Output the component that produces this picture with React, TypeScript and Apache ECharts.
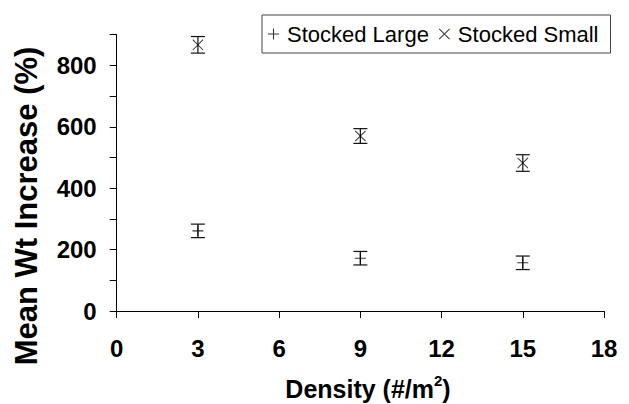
import React, { useEffect, useRef } from "react";
import * as echarts from "echarts";

// Stocking density (#/m²)
const densities = [3, 9, 15];
// Mean weight increase (%) and its error (±)
const largeMeans = [261, 172, 157];
const largeErr = [22, 22, 22];
const smallMeans = [867, 570, 482];
const smallErr = [27, 24, 27];

const yTicks = [0, 200, 400, 600, 800];
const xTicks = [0, 3, 6, 9, 12, 15, 18];

const FONT = "'Liberation Sans', Arial, Helvetica, sans-serif";

// thin plus and cross drawn as filled outlines
const PLUS = "path://M0,4.5H10V5.5H0Z M4.5,0H5.5V10H4.5Z";
const CROSS =
  "path://M0,0.6L0.6,0L10,9.4L9.4,10Z M9.4,0L10,0.6L0.6,10L0,9.4Z";

function errorBarSeries(name: string, means: number[], errs: number[]) {
  return {
    type: "custom",
    name,
    data: densities.map((d, i) => [d, means[i], errs[i]]),
    encode: { x: 0, y: 1 },
    silent: true,
    z: 3,
    renderItem: (_params: any, api: any) => {
      const x = api.value(0);
      const y = api.value(1);
      const e = api.value(2);
      const top = api.coord([x, y + e]);
      const bot = api.coord([x, y - e]);
      const hw = 7;
      const style = { stroke: "#111", lineWidth: 1.2 };
      return {
        type: "group",
        children: [
          { type: "line", shape: { x1: top[0], y1: top[1], x2: bot[0], y2: bot[1] }, style },
          { type: "line", shape: { x1: top[0] - hw, y1: top[1], x2: top[0] + hw, y2: top[1] }, style },
          { type: "line", shape: { x1: bot[0] - hw, y1: bot[1], x2: bot[0] + hw, y2: bot[1] }, style },
        ],
      };
    },
  };
}

export default function App() {
  const ref = useRef<HTMLDivElement>(null);

  useEffect(() => {
    if (!ref.current) return;
    const chart = echarts.init(ref.current, null, { renderer: "svg" });
    chart.setOption({
      animation: false,
      backgroundColor: "#fff",
      grid: {
        left: 116.7,
        right: 25,
        top: 34.7,
        bottom: 93,
        containLabel: false,
        outerBoundsMode: "none",
      },
      legend: {
        data: [
          { name: "Stocked Large", icon: PLUS },
          { name: "Stocked Small", icon: CROSS },
        ],
        left: 262,
        top: 15,
        orient: "horizontal",
        itemWidth: 11,
        itemHeight: 11,
        itemGap: 10,
        padding: [8, 12, 8, 6],
        borderColor: "#444",
        borderWidth: 1,
        borderRadius: 0,
        selectedMode: false,
        textStyle: { fontFamily: FONT, fontSize: 22, color: "#000", padding: [0, 0, 0, 3] },
      },
      xAxis: {
        type: "value",
        min: 0,
        max: 18,
        interval: 3,
        axisLine: { show: true, onZero: false, lineStyle: { color: "#000", width: 1 } },
        axisTick: { show: true, length: 7, lineStyle: { color: "#000" } },
        splitLine: { show: false },
        axisLabel: {
          margin: 25,
          fontFamily: FONT,
          fontWeight: "bold",
          fontSize: 24,
          color: "#000",
          formatter: (v: number) => (xTicks.includes(v) ? String(v) : ""),
        },
      },
      yAxis: {
        type: "value",
        min: 0,
        max: 900,
        interval: 100,
        axisLine: { show: true, onZero: false, lineStyle: { color: "#000", width: 1 } },
        axisTick: { show: true, length: 7, lineStyle: { color: "#000" } },
        splitLine: { show: false },
        axisLabel: {
          margin: 20,
          fontFamily: FONT,
          fontWeight: "bold",
          fontSize: 24,
          color: "#000",
          formatter: (v: number) => (yTicks.includes(v) ? String(v) : ""),
        },
      },
      graphic: [
        {
          type: "text",
          x: 26,
          y: 206,
          rotation: Math.PI / 2,
          style: {
            text: "Mean Wt Increase (%)",
            font: `bold 31px ${FONT}`,
            fill: "#000",
            textAlign: "center",
            textVerticalAlign: "middle",
          },
        },
        {
          type: "text",
          x: 368,
          y: 387,
          style: {
            text: "{a|Density (#/m}{s|2}{a|)}",
            textAlign: "center",
            textVerticalAlign: "middle",
            rich: {
              a: { font: `bold 25px ${FONT}`, fill: "#000", verticalAlign: "bottom", lineHeight: 28 },
              s: { font: `bold 15px ${FONT}`, fill: "#000", verticalAlign: "top", padding: [0, 0, 12, 0], lineHeight: 16 },
            },
          },
        },
      ],
      series: [
        {
          type: "scatter",
          name: "Stocked Large",
          data: densities.map((d, i) => [d, largeMeans[i]]),
          symbol: PLUS,
          symbolSize: 11,
          itemStyle: { color: "#000" },
          z: 4,
        },
        {
          type: "scatter",
          name: "Stocked Small",
          data: densities.map((d, i) => [d, smallMeans[i]]),
          symbol: CROSS,
          symbolSize: 11,
          itemStyle: { color: "#000" },
          z: 4,
        },
        errorBarSeries("Large error", largeMeans, largeErr),
        errorBarSeries("Small error", smallMeans, smallErr),
      ],
    });
    return () => chart.dispose();
  }, []);

  return <div ref={ref} style={{ width: 629, height: 404, position: "absolute", left: 0, top: 0 }} />;
}
